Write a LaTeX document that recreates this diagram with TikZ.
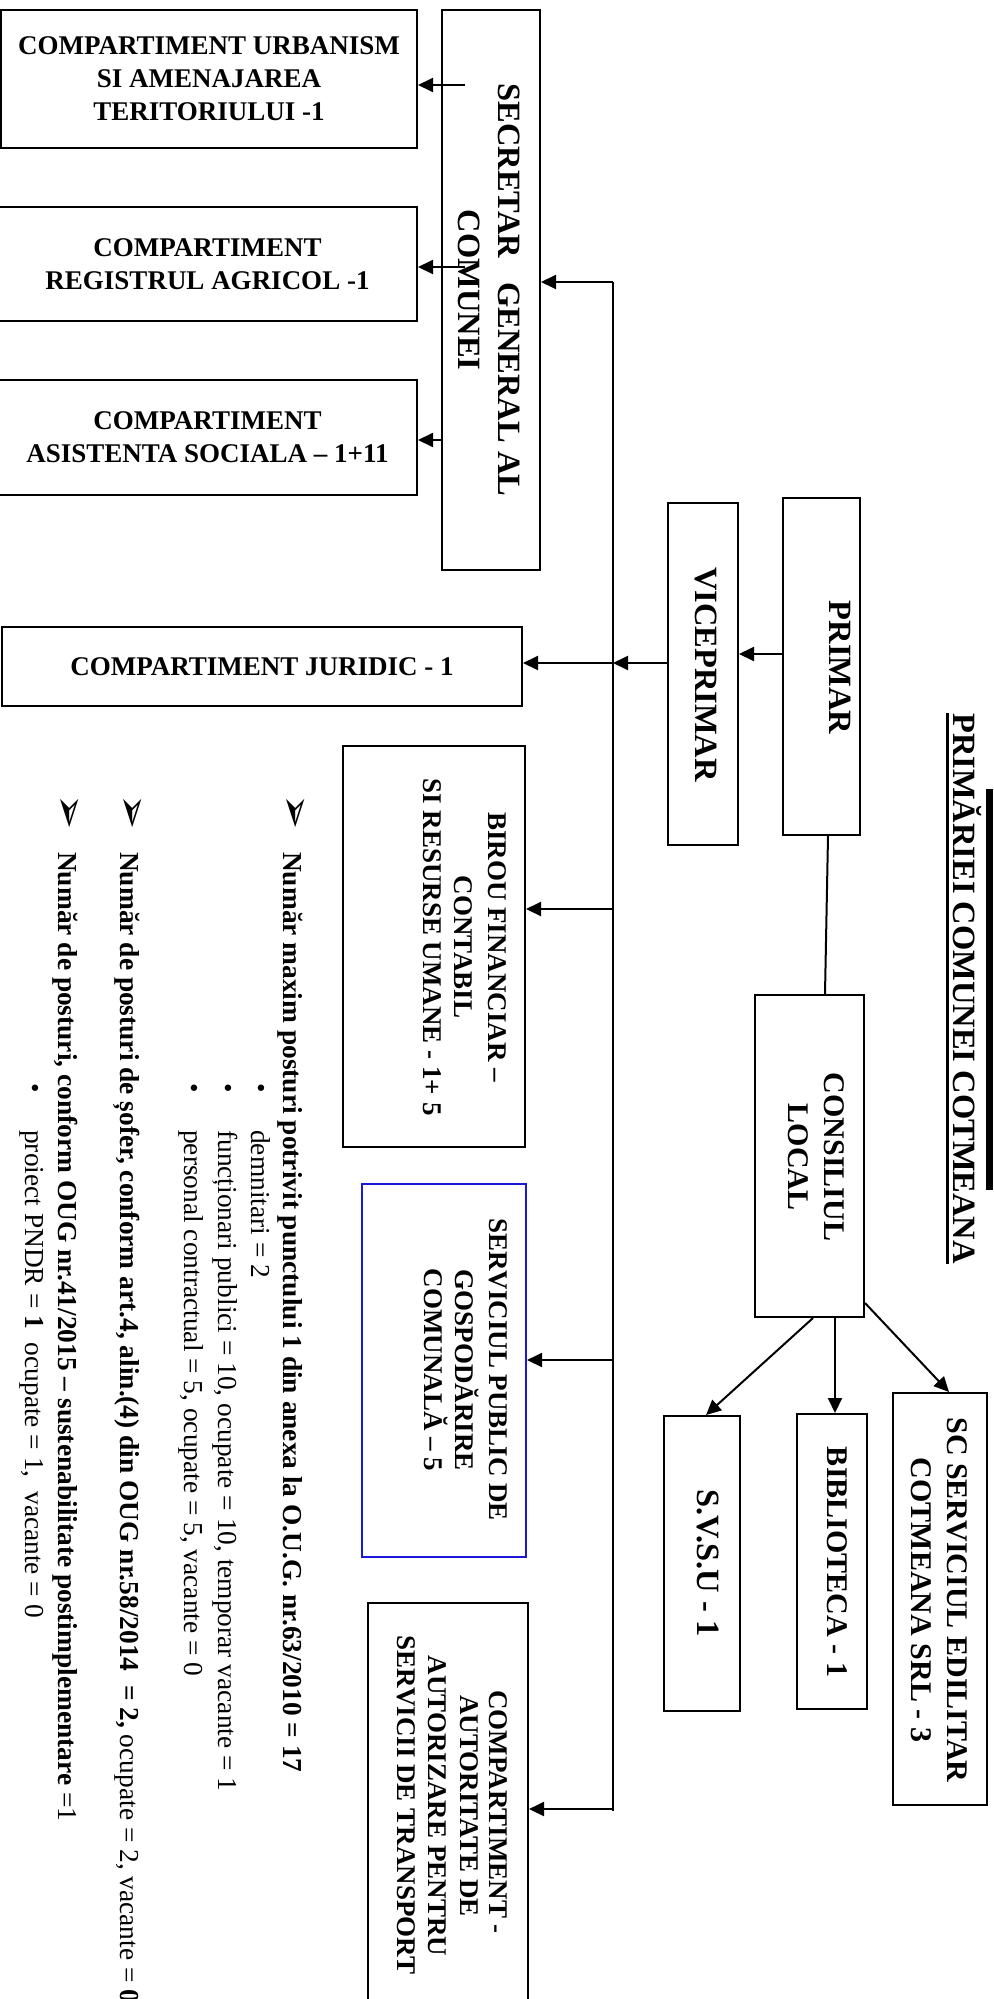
\documentclass[tikz,border=0pt]{standalone}
\usepackage{fontspec}
\setmainfont{Liberation Serif}
\newfontfamily\djvfont{DejaVu Sans}
\usepackage{graphicx}
\usetikzlibrary{arrows.meta,calc}
\newcommand{\setfs}[1]{\fontsize{#1}{#1}\selectfont}
\definecolor{bluebox}{RGB}{25,25,215}
\begin{document}
\begin{tikzpicture}[x=1pt,y=-1pt,
 bx/.style={draw=black,line width=2pt,inner sep=0pt},
 hb/.style={bx,align=center,font=\fontsize{27}{33}\selectfont\bfseries},
 rl/.style={rotate=-90,anchor=base,inner sep=0pt},
 ln/.style={line width=2pt},
 arr/.style={line width=2pt,-{Triangle[length=15pt,width=14pt]}},
 lst/.style={rotate=-90,anchor=base west,inner sep=0pt,font=\fontsize{27.4}{32}\selectfont},
 bul/.style={rotate=-90,inner sep=0pt,font=\fontsize{27}{32}\selectfont},
 mrk/.style={rotate=-90,inner sep=0pt,font=\djvfont\fontsize{42}{44}\selectfont},
]
\useasboundingbox (0,0) rectangle (993,1999);
\fill[white] (0,0) rectangle (993,1999);

% ---------- horizontal boxes (left)
\node[hb,minimum width=416pt,minimum height=138pt] (urb) at (209,79) {COMPARTIMENT URBANISM\\SI AMENAJAREA\\TERITORIULUI -1};
\node[hb,minimum width=419pt,minimum height=114pt] (reg) at (207.5,264) {COMPARTIMENT\\REGISTRUL AGRICOL -1};
\node[hb,minimum width=419pt,minimum height=115pt] (asi) at (207.5,437.5) {COMPARTIMENT\\ASISTENTA SOCIALA -- 1+11};
\node[hb,minimum width=520pt,minimum height=79pt] (jur) at (262,666.5) {COMPARTIMENT JURIDIC - 1};

% ---------- secretar
\node[bx,minimum width=98pt,minimum height=560pt] (sec) at (491,290) {};
\node[rl,font=\setfs{32.5}\bfseries] (secA) at (498,290) {SECRETAR\ \ \ GENERAL AL};
\node[rl,font=\setfs{32.5}\bfseries] (secB) at (458,290) {COMUNEI};

% ---------- primar / viceprimar
\node[bx,minimum width=70pt,minimum height=342pt] (vice) at (703,674) {};
\node[rl,font=\setfs{32.5}\bfseries] (viceT) at (695,674.5) {VICEPRIMAR};
\node[bx,minimum width=77pt,minimum height=337pt] (primar) at (821.5,666.5) {};
\node[rl,font=\setfs{32.5}\bfseries] (primarT) at (829,667.5) {PRIMAR};

% ---------- title
\node[rl,font=\setfs{32.5}\bfseries] (title) at (953,988.5) {PRIMĂRIEI COMUNEI COTMEANA};
\draw[line width=2.5pt] ([xshift=-5pt]title.south west) -- ([xshift=-5pt]title.south east);
\fill[black] (986,789) rectangle (993,1190);

% ---------- consiliul local and subordinates
\node[bx,minimum width=109pt,minimum height=322pt] (cons) at (809.5,1156) {};
\node[rl,font=\setfs{30}\bfseries] (consA) at (824,1157) {CONSILIUL};
\node[rl,font=\setfs{30}\bfseries] (consB) at (788,1157) {LOCAL};

\node[bx,minimum width=76pt,minimum height=295pt] (svsu) at (702,1563.5) {};
\node[rl,font=\setfs{32.5}\bfseries] (svsuT) at (697,1563) {S.V.S.U - 1};
\node[bx,minimum width=70pt,minimum height=295pt] (bib) at (832,1561.5) {};
\node[rl,font=\setfs{30}\bfseries] (bibT) at (827,1562) {BIBLIOTECA - 1};
\node[bx,minimum width=94pt,minimum height=412pt] (scs) at (940,1599) {};
\node[rl,font=\setfs{30}\bfseries] (scsA) at (947,1600) {SC SERVICIUL EDILITAR};
\node[rl,font=\setfs{30}\bfseries] (scsB) at (911,1600) {COTMEANA SRL - 3};

% ---------- birou / serviciu / compartiment transport
\node[bx,minimum width=182pt,minimum height=401pt] (birou) at (434,946.5) {};
\node[rl,font=\setfs{27}\bfseries] (birA) at (488,947) {BIROU FINANCIAR --};
\node[rl,font=\setfs{27}\bfseries] (birB) at (454,947) {CONTABIL};
\node[rl,font=\setfs{27}\bfseries] (birC) at (423,947) {SI RESURSE UMANE - 1+ 5};

\node[bx,draw=bluebox,minimum width=164pt,minimum height=373pt] (spub) at (444,1370.5) {};
\node[rl,font=\setfs{27}\bfseries] (spA) at (489,1370) {SERVICIUL PUBLIC DE};
\node[rl,font=\setfs{27}\bfseries] (spB) at (455,1370) {GOSPODĂRIRE};
\node[rl,font=\setfs{27}\bfseries] (spC) at (424,1370) {COMUNALĂ -- 5};

\node[bx,minimum width=160pt,minimum height=427pt] (aut) at (448,1816.5) {};
\node[rl,font=\setfs{27}\bfseries] (autA) at (489,1812) {COMPARTIMENT -};
\node[rl,font=\setfs{27}\bfseries] (autB) at (460,1806) {AUTORITATE DE};
\node[rl,font=\setfs{27}\bfseries] (autC) at (428,1806) {AUTORIZARE PENTRU};
\node[rl,font=\setfs{27}\bfseries] (autD) at (397,1805) {SERVICII DE TRANSPORT};

% ---------- connectors
\coordinate (busT) at (613,282);
\coordinate (busB) at (613,1811);
\draw[ln] (busT) -- (busB);
\draw[arr] (busT) -- (sec.east |- busT);

\coordinate (u0) at (465,85);
\draw[arr] (u0) -- (urb.east |- u0);
\coordinate (r0) at (465,267);
\draw[arr] (r0) -- (reg.east |- r0);
\coordinate (a0) at (442,440);
\draw[arr] (sec.west |- a0) -- (asi.east |- a0);

\coordinate (p0) at (0,654);
\draw[arr] (primar.west |- p0) -- (vice.east |- p0);
\coordinate (j0) at (613,663);
\draw[arr] (vice.west |- j0) -- (j0);
\draw[arr] (j0) -- (jur.east |- j0);

\coordinate (b0) at (613,909);
\draw[arr] (b0) -- (birou.east |- b0);
\coordinate (s0) at (613,1360);
\draw[arr] (s0) -- (spub.east |- s0);
\coordinate (t0) at (613,1809);
\draw[arr] (t0) -- (aut.east |- t0);

\draw[ln] ([xshift=6.5pt]primar.south) -- ([xshift=15.5pt]cons.north);
\draw[arr] ([xshift=3.5pt]cons.south) -- ([xshift=4pt]svsu.north);
\draw[arr] ([xshift=25.5pt]cons.south) -- ([xshift=3pt]bib.north);
\draw[arr] ([yshift=15pt]cons.south east) -- ([xshift=9pt]scs.north);

% ---------- notes
\node[mrk] (m1) at (294,812) {➢};
\node[lst] (l1) at (283,852) {\bfseries Număr maxim posturi potrivit punctului 1 din anexa la O.U.G. nr.63/2010 = 17};
\node[bul] (d1) at (259,1088) {•};
\node[lst] (l2) at (251,1130) {demnitari = 2};
\node[bul] (d2) at (226,1088) {•};
\node[lst] (l3) at (218,1130) {funcționari publici = 10, ocupate = 10, temporar vacante = 1};
\node[bul] (d3) at (192,1088) {•};
\node[lst] (l4) at (184,1130) {personal contractual = 5, ocupate = 5, vacante = 0};
\node[mrk] (m2) at (131,812) {➢};
\node[lst] (l5) at (120,852) {\textbf{Număr de posturi de șofer, conform art.4, alin.(4) din OUG nr.58/2014\ \ = 2,} ocupate = 2, vacante = \textbf{0}};
\node[mrk] (m3) at (68,812) {➢};
\node[lst] (l6) at (58,852) {\textbf{Număr de posturi, conform OUG nr.41/2015 -- sustenabilitate postimplementare} =1};
\node[bul] (d4) at (33,1088) {•};
\node[lst] (l7) at (25,1130) {proiect PNDR = \textbf{1}\ \ ocupate = 1,\ \ vacante = 0};
\end{tikzpicture}
\end{document}
